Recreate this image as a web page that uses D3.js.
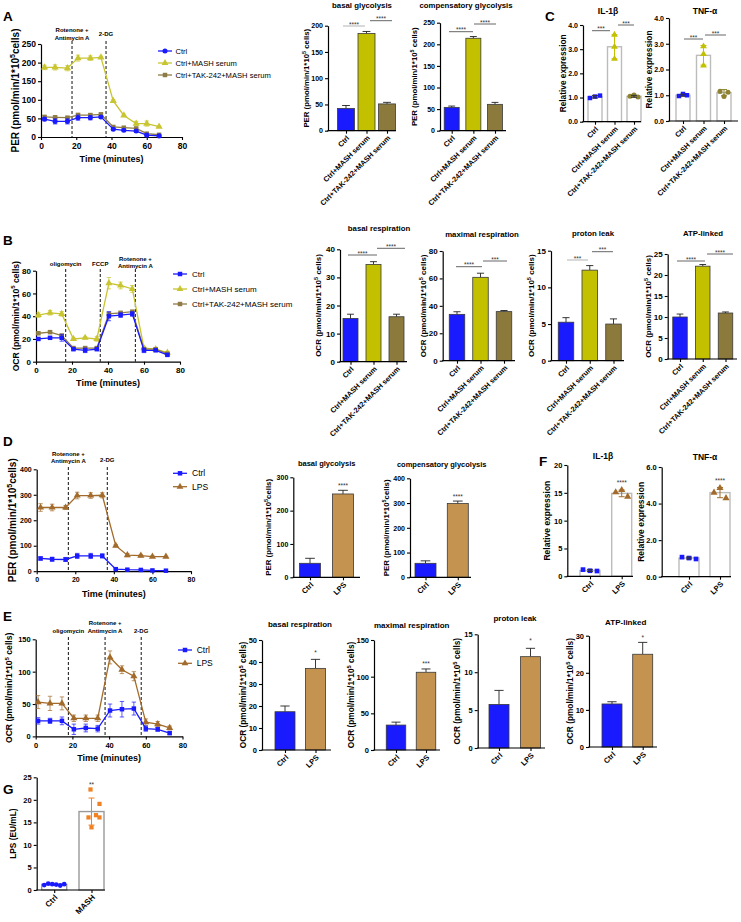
<!DOCTYPE html>
<html><head><meta charset="utf-8">
<script src="https://cdn.jsdelivr.net/npm/d3@7"></script>
<style>body{margin:0;background:#fff}</style>
</head><body>
<svg id="chart" width="741" height="922" style="background:#fff"></svg>
<script>
// ---------------- DATA ----------------
const groups3 = ["Ctrl", "Ctrl+MASH serum", "Ctrl+TAK-242+MASH serum"];
const groups2 = ["Ctrl", "LPS"];
const groupsG = ["Ctrl", "MASH"];
const timeTicks = [0, 20, 40, 60, 80];

// Panel A – PER time course
const timeGly = [2, 8, 15, 21, 28, 34, 41, 47, 54, 60, 67];
const perCtrlA = [48, 42, 42, 52, 52, 54, 21, 18, 16, 5, 3];
const perCtrlAErr = [4, 7, 7, 7, 6, 3, 3, 3, 3, 3, 2];
const perMashA = [187, 187, 185, 212, 212, 214, 97, 58, 36, 36, 28];
const perMashAErr = [6, 7, 7, 8, 6, 3, 3, 3, 6, 7, 2];
const perTakA = [54, 53, 52, 59, 59, 61, 27, 25, 23, 9, 6];
const perTakAErr = [4, 3, 3, 5, 4, 3, 2, 2, 2, 2, 1];
const ticksPerA = [0, 50, 100, 150, 200, 250];
// Panel A – bars
const basalGlyA = [42.5, 185, 51];
const basalGlyAErr = [5.5, 4, 3];
const ticksBasalGlyA = [0, 50, 100, 150, 200];
const compGlyA = [54, 214, 61];
const compGlyAErr = [3, 4, 4.5];
const ticksCompGlyA = [0, 50, 100, 150, 200, 250];
// Panel C
const il1bC = [1.03, 3.1, 1.05];
const il1bCErr = [0.05, 0.5, 0.04];
const il1bCPts = [[0.98, 1.08, 1.04], [3.6, 3.1, 2.6], [1.05, 1.1, 1.02]];
const tnfC = [1.0, 2.55, 1.1];
const tnfCErr = [0.04, 0.38, 0.12];
const tnfCPts = [[0.97, 1.05, 1.0], [2.9, 2.6, 2.15], [1.15, 0.95, 1.12]];
const ticksRelC = [0, 1, 2, 3, 4];

// Panel B – OCR time course
const timeOcr = [1.3, 7.8, 14.3, 20.8, 27.3, 33.8, 40.5, 47, 53.5, 60, 66.5, 73];
const ocrCtrlB = [20, 21, 21, 11, 10, 11, 40, 41, 42, 10, 10, 6];
const ocrCtrlBErr = [1, 1, 3, 1, 2, 1, 4, 2, 2, 2, 1, 1];
const ocrMashB = [41, 43, 42, 20, 21, 20, 69, 67, 64, 12, 11, 8];
const ocrMashBErr = [2, 2, 2, 1, 1, 2, 5, 3, 3, 1, 1, 1];
const ocrTakB = [25, 26, 23, 12, 12, 12, 42, 43, 44, 11, 11, 7];
const ocrTakBErr = [1, 1, 1, 1, 1, 1, 1, 1, 1, 1, 1, 1];
const ticksOcrB = [0, 20, 40, 60, 80];
// Panel B – bars
const basalRespB = [15.4, 34.6, 16.0];
const basalRespBErr = [1.5, 1.0, 0.9];
const ticksBasalRespB = [0, 10, 20, 30, 40];
const maxRespB = [33.8, 60.8, 35.8];
const maxRespBErr = [1.9, 3.0, 0.8];
const ticksMaxRespB = [0, 20, 40, 60, 80];
const protonLeakB = [5.25, 12.35, 5.0];
const protonLeakBErr = [0.62, 0.62, 0.7];
const ticksProtonB = [0, 5, 10, 15];
const atpB = [10.0, 22.1, 10.95];
const atpBErr = [0.7, 0.4, 0.25];
const ticksAtpB = [0, 5, 10, 15, 20, 25];

// Panel D – PER time course (LPS)
const perCtrlD = [50, 47, 46, 60, 60, 60, 8, 6, 5, 3, 2];
const perCtrlDErr = [6, 8, 8, 10, 10, 8, 2, 1, 1, 1, 1];
const perLpsD = [250, 250, 250, 297, 297, 298, 100, 63, 61, 57, 57];
const perLpsDErr = [15, 13, 8, 13, 11, 10, 4, 6, 5, 3, 2];
const ticksPerD = [0, 100, 200, 300, 400];
const basalGlyD = [42, 250];
const basalGlyDErr = [15, 11];
const ticksBasalGlyD = [0, 100, 200, 300];
const compGlyD = [56.5, 298];
const compGlyDErr = [10, 10];
const ticksCompGlyD = [0, 100, 200, 300, 400];

// Panel F
const il1bF = [1.03, 14.9];
const il1bFErr = [0.15, 0.6];
const il1bFPts = [[1.2, 1.0, 0.95], [15.1, 15.5, 14.3]];
const ticksIl1bF = [0, 5, 10, 15, 20];
const tnfF = [1.02, 4.6];
const tnfFErr = [0.05, 0.28];
const tnfFPts = [[1.07, 1.02, 0.97], [4.6, 4.85, 4.3]];
const ticksTnfF = [0, 2, 4, 6];

// Panel E – OCR time course (LPS)
const ocrCtrlE = [24, 24, 24, 11, 13, 12, 40, 42, 43, 12, 11, 5];
const ocrCtrlEErr = [5, 4, 6, 8, 6, 5, 10, 12, 10, 4, 3, 2];
const ocrLpsE = [53, 51, 51, 28, 28, 28, 122, 103, 93, 22, 19, 13];
const ocrLpsEErr = [10, 11, 10, 5, 5, 5, 10, 6, 7, 5, 4, 3];
const ticksOcrE = [0, 50, 100, 150];
const basalRespE = [17.4, 37.1];
const basalRespEErr = [2.6, 4.1];
const ticksBasalRespE = [0, 10, 20, 30, 40, 50];
const maxRespE = [34, 106];
const maxRespEErr = [4, 4.5];
const ticksMaxRespE = [0, 50, 100, 150];
const protonLeakE = [5.75, 12.05];
const protonLeakEErr = [1.85, 1.1];
const ticksProtonE = [0, 5, 10, 15];
const atpE = [11.6, 25.0];
const atpEErr = [0.6, 3.2];
const ticksAtpE = [0, 10, 20, 30];

// Panel G
const lpsG = [1.25, 17.4];
const lpsGErr = [0.15, 3.0];
const lpsGPts = [[1.1, 1.4, 1.3, 1.2, 1.0, 1.3], [22.3, 19.1, 16.6, 16.1, 16.1, 13.9]];
const ticksLpsG = [0, 5, 10, 15, 20, 25];

// ---------------- DRAWING ----------------
const FONT = '"Liberation Sans", Arial, Helvetica, sans-serif';
const C = {
  ctrl: '#1a1aff', mash: '#c3c000', tak: '#8c7a3c',
  mashLine: '#c8c530', takLine: '#8e7c44',
  lpsLine: '#a36b2b', lpsBar: '#c4934f', orange: '#f08223'
};
const svg = d3.select('#chart').attr('font-family', FONT);

function styleAxis(a, fs) {
  a.attr('font-family', FONT);
  a.select('.domain').attr('stroke', '#000').attr('stroke-width', 1.2);
  a.selectAll('.tick line').attr('stroke', '#000').attr('stroke-width', 1.1);
  a.selectAll('.tick text').attr('font-family', FONT).attr('font-size', fs)
    .attr('font-weight', 'bold').attr('fill', '#000');
}
function maxTickWidth(a) {
  let m = 0;
  a.selectAll('.tick text').each(function () { m = Math.max(m, this.getComputedTextLength()); });
  return m;
}

function yLabel(g, cx, cy, parts, fs) {
  const t = g.append('text')
    .attr('transform', `translate(${cx + fs * 0.36},${cy}) rotate(-90)`)
    .attr('text-anchor', 'middle').attr('font-size', fs).attr('font-weight', 'bold')
    .attr('font-family', FONT).attr('fill', '#000');
  t.append('tspan').text(parts[0]);
  if (parts.length > 1) {
    t.append('tspan').attr('dy', -fs * 0.4).attr('font-size', fs * 0.7).text(parts[1]);
    t.append('tspan').attr('dy', fs * 0.4).text(parts[2]);
  }
}

function letter(txt, x, y) {
  svg.append('text').attr('x', x).attr('y', y).attr('font-size', 13.5)
    .attr('font-weight', 'bold').attr('font-family', FONT).text(txt);
}

const SYM = { circle: d3.symbolCircle, square: d3.symbolSquare, tri: d3.symbolTriangle };

function lineChart(o) {
  const g = svg.append('g');
  const x = d3.scaleLinear().domain([0, 80]).range([o.x0, o.x1]);
  const y = d3.scaleLinear().domain([0, o.yMax]).range([o.y0, o.yTop]);
  o.vlines.forEach(v => {
    g.append('line').attr('x1', x(v.t)).attr('x2', x(v.t)).attr('y1', o.dashTop).attr('y2', o.y0)
      .attr('stroke', '#111').attr('stroke-width', 1).attr('stroke-dasharray', '3,2');
    v.lab.forEach((s, k) => g.append('text').attr('x', x(v.t)).attr('y', v.ly[k])
      .attr('text-anchor', 'middle').attr('font-size', 6).attr('font-weight', 'bold').text(s));
  });
  const ya = g.append('g').attr('transform', `translate(${o.x0},0)`)
    .call(d3.axisLeft(y).tickValues(o.yTicks).tickSize(3).tickPadding(2).tickSizeOuter(0));
  styleAxis(ya, o.tfs);
  const xa = g.append('g').attr('transform', `translate(0,${o.y0})`)
    .call(d3.axisBottom(x).tickValues(timeTicks).tickSize(3).tickPadding(3).tickSizeOuter(0));
  styleAxis(xa, o.tfs);
  g.append('text').attr('x', (o.x0 + o.x1) / 2).attr('y', o.xlabY).attr('text-anchor', 'middle')
    .attr('font-size', 9).attr('font-weight', 'bold').text('Time (minutes)');
  const lx = Math.min(o.ylx, o.x0 - 5 - maxTickWidth(ya) - 1.2 - o.ylfs * 0.5);
  yLabel(g, lx, (o.y0 + o.yTop) / 2, o.ylab, o.ylfs);
  o.series.forEach(s => {
    const pts = o.times.map((t, i) => ({ t, v: s.values[i], e: s.errors[i] }));
    g.append('g').selectAll('line').data(pts).join('line')
      .attr('x1', d => x(d.t)).attr('x2', d => x(d.t))
      .attr('y1', d => y(d.v - d.e)).attr('y2', d => y(d.v + d.e))
      .attr('stroke', s.color).attr('stroke-opacity', 0.7).attr('stroke-width', 1);
    [-1, 1].forEach(sg => g.append('g').selectAll('line').data(pts).join('line')
      .attr('x1', d => x(d.t) - 2.2).attr('x2', d => x(d.t) + 2.2)
      .attr('y1', d => y(d.v + sg * d.e)).attr('y2', d => y(d.v + sg * d.e))
      .attr('stroke', s.color).attr('stroke-opacity', 0.7).attr('stroke-width', 1));
    g.append('path').datum(pts)
      .attr('d', d3.line().x(d => x(d.t)).y(d => y(d.v)))
      .attr('fill', 'none').attr('stroke', s.color).attr('stroke-width', 1.3);
    g.append('g').selectAll('path').data(pts).join('path')
      .attr('transform', d => `translate(${x(d.t)},${y(d.v)})`)
      .attr('d', d3.symbol(SYM[s.sym], s.sym === 'tri' ? 22 : 20)())
      .attr('fill', s.color);
  });
  o.legend.items.forEach((s, k) => {
    const ly = o.legend.ys[k];
    g.append('line').attr('x1', o.legend.mx - 7).attr('x2', o.legend.mx + 7)
      .attr('y1', ly).attr('y2', ly).attr('stroke', s.color).attr('stroke-width', 1.3);
    g.append('path').attr('transform', `translate(${o.legend.mx},${ly})`)
      .attr('d', d3.symbol(SYM[s.sym], 20)()).attr('fill', s.color);
    g.append('text').attr('x', o.legend.tx).attr('y', ly + o.legend.fs * 0.35)
      .attr('font-size', o.legend.fs).text(s.name);
  });
}

function barChart(o) {
  const g = svg.append('g');
  const y = d3.scaleLinear().domain([0, o.yMax]).range([o.y0, o.yTop]);
  const x = d3.scalePoint().domain(o.cats).range([o.c0, o.c1]);
  const data = o.cats.map((c, i) => ({ c, i, v: o.values[i], e: o.errors[i] }));
  const bw = o.bw;
  if (!o.open) {
    g.append('g').selectAll('line').data(data).join('line')
      .attr('x1', d => x(d.c)).attr('x2', d => x(d.c))
      .attr('y1', d => y(d.v)).attr('y2', d => y(d.v + d.e))
      .attr('stroke', '#222').attr('stroke-width', 0.9);
    g.append('g').selectAll('line').data(data).join('line')
      .attr('x1', d => x(d.c) - bw * 0.23).attr('x2', d => x(d.c) + bw * 0.23)
      .attr('y1', d => y(d.v + d.e)).attr('y2', d => y(d.v + d.e))
      .attr('stroke', '#222').attr('stroke-width', 0.9);
    g.append('g').selectAll('rect').data(data).join('rect')
      .attr('x', d => x(d.c) - bw / 2).attr('y', d => y(d.v))
      .attr('width', bw).attr('height', d => o.y0 - y(d.v))
      .attr('fill', d => o.colors[d.i]).attr('stroke', '#3a3a3a').attr('stroke-width', 0.8);
  } else {
    g.append('g').selectAll('rect').data(data).join('rect')
      .attr('x', d => x(d.c) - bw / 2).attr('y', d => y(d.v))
      .attr('width', bw).attr('height', d => o.y0 - y(d.v))
      .attr('fill', '#fff').attr('stroke', o.stroke).attr('stroke-width', 1.4);
    data.forEach(d => {
      o.points[d.i].forEach((p, k) => {
        g.append('path').attr('transform', `translate(${x(d.c) + o.jitter[d.i][k]},${y(p)})`)
          .attr('d', d3.symbol(SYM[o.syms[d.i]], o.symSize)()).attr('fill', o.colors[d.i]);
      });
    });
    g.append('g').selectAll('line').data(data).join('line')
      .attr('x1', d => x(d.c)).attr('x2', d => x(d.c))
      .attr('y1', d => y(d.v - d.e)).attr('y2', d => y(d.v + d.e))
      .attr('stroke', d => o.ecolors[d.i]).attr('stroke-width', 1);
    [-1, 1].forEach(sg => g.append('g').selectAll('line').data(data).join('line')
      .attr('x1', d => x(d.c) - 3).attr('x2', d => x(d.c) + 3)
      .attr('y1', d => y(d.v + sg * d.e)).attr('y2', d => y(d.v + sg * d.e))
      .attr('stroke', d => o.ecolors[d.i]).attr('stroke-width', 1));
  }
  const ya = g.append('g').attr('transform', `translate(${o.axisX},0)`)
    .call(d3.axisLeft(y).tickValues(o.ticks).tickSize(3).tickPadding(2).tickSizeOuter(0));
  styleAxis(ya, o.tfs);
  const xa = g.append('g').attr('transform', `translate(0,${o.y0})`)
    .call(d3.axisBottom(x).tickSize(3).tickFormat('').tickSizeOuter(0));
  xa.select('.domain').remove();
  xa.selectAll('.tick line').attr('stroke', '#000').attr('stroke-width', 1.1);
  g.append('line').attr('x1', o.axisX - 0.6).attr('x2', o.axisEnd).attr('y1', o.y0).attr('y2', o.y0)
    .attr('stroke', '#000').attr('stroke-width', 1.2);
  g.append('g').selectAll('text').data(o.cats).join('text')
    .attr('transform', d => `translate(${x(d) + 2},${o.y0 + 6}) rotate(-45)`)
    .attr('text-anchor', 'end').attr('dy', '0.35em')
    .attr('font-size', o.lfs).attr('font-weight', 'bold').text(d => d);
  if (o.title) g.append('text').attr('x', o.tx).attr('y', o.ty).attr('text-anchor', 'middle')
    .attr('font-size', o.titleFs).attr('font-weight', 'bold').text(o.title);
  const lx = Math.min(o.ylx, o.axisX - 5 - maxTickWidth(ya) - 1.5 - o.ylfs * 0.5);
  yLabel(g, lx, (o.y0 + o.yTop) / 2, o.ylab, o.ylfs);
  const sfs = 6.5;
  (o.sig || []).forEach(s => {
    if (s.x1 !== undefined) {
      g.append('line').attr('x1', s.x1).attr('x2', s.x2).attr('y1', s.y).attr('y2', s.y)
        .attr('stroke', s.c || '#555').attr('stroke-width', 0.9);
      g.append('text').attr('x', (s.x1 + s.x2) / 2).attr('y', s.y + 0.6).attr('text-anchor', 'middle')
        .attr('font-size', sfs).attr('fill', '#333').text(s.t);
    } else {
      g.append('text').attr('x', x(o.cats[s.cat])).attr('y', s.y + sfs * 0.57).attr('text-anchor', 'middle')
        .attr('font-size', sfs).attr('fill', '#333').text(s.t);
    }
  });
}

// ---------- Panel A ----------
letter('A', 3, 21);
lineChart({
  x0: 41, x1: 182, y0: 137, yTop: 44, yMax: 250, yTicks: ticksPerA, tfs: 8.5,
  times: timeGly, dashTop: 41, xlabY: 161.5,
  vlines: [{ t: 17.6, lab: ['Rotenone +', 'Antimycin A'], ly: [31.5, 39.5] },
           { t: 36.9, lab: ['2-DG'], ly: [35.5] }],
  ylab: ['PER (pmol/min/1*10', '5', 'cells)'], ylx: 19, ylfs: 10,
  series: [
    { values: perMashA, errors: perMashAErr, color: C.mashLine, sym: 'tri' },
    { values: perTakA, errors: perTakAErr, color: C.takLine, sym: 'square' },
    { values: perCtrlA, errors: perCtrlAErr, color: C.ctrl, sym: 'circle' }],
  legend: { mx: 165, tx: 175.5, ys: [51, 63, 75], fs: 7.6, items: [
    { name: groups3[0], color: C.ctrl, sym: 'circle' },
    { name: groups3[1], color: C.mashLine, sym: 'tri' },
    { name: groups3[2], color: C.takLine, sym: 'square' }] }
});
barChart({
  cats: groups3, values: basalGlyA, errors: basalGlyAErr, colors: [C.ctrl, C.mash, C.tak],
  axisX: 328, axisEnd: 396, y0: 130.7, yTop: 25.7, yMax: 200, ticks: ticksBasalGlyA, tfs: 7,
  c0: 346, c1: 387, bw: 17, lfs: 7.3,
  title: 'basal glycolysis', tx: 362, ty: 7.5, titleFs: 7.8,
  ylab: ['PER (pmol/min/1*10', '5', ' cells)'], ylx: 314, ylfs: 7.8,
  sig: [{ x1: 343, x2: 365, y: 26, t: '****', c: '#aaa' }, { x1: 370, x2: 392, y: 20.7, t: '****' }]
});
barChart({
  cats: groups3, values: compGlyA, errors: compGlyAErr, colors: [C.ctrl, C.mash, C.tak],
  axisX: 440, axisEnd: 506, y0: 130.7, yTop: 22.7, yMax: 250, ticks: ticksCompGlyA, tfs: 7,
  c0: 451.7, c1: 495, bw: 15, lfs: 7.3,
  title: 'compensatory glycolysis', tx: 466, ty: 7.5, titleFs: 7.8,
  ylab: ['PER (pmol/min/1*10', '5', ' cells)'], ylx: 414, ylfs: 7.8,
  sig: [{ x1: 449, x2: 473, y: 31.7, t: '****' }, { x1: 474, x2: 496, y: 24, t: '****' }]
});

// ---------- Panel C ----------
letter('C', 545, 21);
barChart({
  cats: groups3, values: il1bC, errors: il1bCErr, open: true, stroke: '#bcbcbc',
  colors: [C.ctrl, C.mash, '#8d8230'], ecolors: ['#333', C.mash, '#333'],
  points: il1bCPts, jitter: [[-5, 5, 0], [0, 0, 0], [-4, 0, 4]], syms: ['square', 'tri', 'circle'], symSize: 20,
  axisX: 583, axisEnd: 641, y0: 121.7, yTop: 25, yMax: 4, ticks: ticksRelC, tfs: 7,
  c0: 595, c1: 634, bw: 14, lfs: 7.3,
  title: 'IL-1β', tx: 608, ty: 13.5, titleFs: 8.5,
  ylab: ['Relative expression'], ylx: 566, ylfs: 8.3,
  sig: [{ x1: 592, x2: 610, y: 30.7, t: '***' }, { x1: 618, x2: 634, y: 25, t: '***' }]
});
barChart({
  cats: groups3, values: tnfC, errors: tnfCErr, open: true, stroke: '#bcbcbc',
  colors: [C.ctrl, C.mash, '#8d8230'], ecolors: ['#333', C.mash, '#8d8230'],
  points: tnfCPts, jitter: [[-4, 0, 4], [0, 0, 0], [-4, 0, 4]], syms: ['square', 'tri', 'circle'], symSize: 20,
  axisX: 669, axisEnd: 738, y0: 121, yTop: 18, yMax: 4, ticks: ticksRelC, tfs: 7,
  c0: 683, c1: 724, bw: 14, lfs: 7.3,
  title: 'TNF-α', tx: 705, ty: 13.5, titleFs: 8.5,
  ylab: ['Relative expression'], ylx: 652, ylfs: 8.3,
  sig: [{ x1: 684, x2: 703, y: 39, t: '***' }, { x1: 705, x2: 726, y: 35, t: '***' }]
});

// ---------- Panel B ----------
letter('B', 3, 245);
lineChart({
  x0: 36, x1: 180, y0: 361.7, yTop: 270.7, yMax: 80, yTicks: ticksOcrB, tfs: 8,
  times: timeOcr, dashTop: 269, xlabY: 386,
  vlines: [{ t: 16.5, lab: ['oligomycin'], ly: [265.5] },
           { t: 35.7, lab: ['FCCP'], ly: [265.5] },
           { t: 55.2, lab: ['Rotenone +', 'Antimycin A'], ly: [260.5, 267.5] }],
  ylab: ['OCR (pmol/min/1*10', '5', ' cells)'], ylx: 15.5, ylfs: 8.6,
  series: [
    { values: ocrMashB, errors: ocrMashBErr, color: C.mashLine, sym: 'tri' },
    { values: ocrTakB, errors: ocrTakBErr, color: C.takLine, sym: 'square' },
    { values: ocrCtrlB, errors: ocrCtrlBErr, color: C.ctrl, sym: 'square' }],
  legend: { mx: 180, tx: 192, ys: [274, 289, 304], fs: 8, items: [
    { name: groups3[0], color: C.ctrl, sym: 'square' },
    { name: groups3[1], color: C.mashLine, sym: 'tri' },
    { name: groups3[2], color: C.takLine, sym: 'square' }] }
});
const ocrLab = ['OCR (pmol/min/1*10', '5', ' cells)'];
barChart({
  cats: groups3, values: basalRespB, errors: basalRespBErr, colors: [C.ctrl, C.mash, C.tak],
  axisX: 340, axisEnd: 407, y0: 361.7, yTop: 249.3, yMax: 40, ticks: ticksBasalRespB, tfs: 8,
  c0: 350.5, c1: 396.5, bw: 15, lfs: 7.3,
  title: 'basal respiration', tx: 379, ty: 231, titleFs: 7.8,
  ylab: ocrLab, ylx: 318, ylfs: 8,
  sig: [{ x1: 348, x2: 377, y: 255, t: '****' }, { x1: 377, x2: 405, y: 248.3, t: '****' }]
});
barChart({
  cats: groups3, values: maxRespB, errors: maxRespBErr, colors: [C.ctrl, C.mash, C.tak],
  axisX: 442.7, axisEnd: 515, y0: 360.7, yTop: 251, yMax: 80, ticks: ticksMaxRespB, tfs: 8,
  c0: 457, c1: 504, bw: 15.5, lfs: 7.3,
  title: 'maximal respiration', tx: 482, ty: 237, titleFs: 7.8,
  ylab: ocrLab, ylx: 423, ylfs: 8,
  sig: [{ x1: 456, x2: 482, y: 266.7, t: '****' }, { x1: 483, x2: 507, y: 261, t: '***' }]
});
barChart({
  cats: groups3, values: protonLeakB, errors: protonLeakBErr, colors: [C.ctrl, C.mash, C.tak],
  axisX: 551, axisEnd: 624, y0: 360.7, yTop: 250.7, yMax: 15, ticks: ticksProtonB, tfs: 8,
  c0: 566, c1: 613.5, bw: 15.5, lfs: 7.3,
  title: 'proton leak', tx: 593, ty: 235.5, titleFs: 7.8,
  ylab: ocrLab, ylx: 535, ylfs: 8,
  sig: [{ x1: 567, x2: 588, y: 260, t: '***', c: '#aaa' }, { x1: 592, x2: 613, y: 251.7, t: '***' }]
});
barChart({
  cats: groups3, values: atpB, errors: atpBErr, colors: [C.ctrl, C.mash, C.tak],
  axisX: 667.7, axisEnd: 737, y0: 359, yTop: 254, yMax: 25, ticks: ticksAtpB, tfs: 8,
  c0: 680, c1: 725.5, bw: 14.5, lfs: 7.3,
  title: 'ATP-linked', tx: 703, ty: 236, titleFs: 7.8,
  ylab: ocrLab, ylx: 648.5, ylfs: 8,
  sig: [{ x1: 677, x2: 705, y: 261, t: '****' }, { x1: 707, x2: 733, y: 254, t: '****' }]
});

// ---------- Panel D ----------
letter('D', 3, 446);
lineChart({
  x0: 36.7, x1: 191, y0: 571.2, yTop: 469.3, yMax: 400, yTicks: ticksPerD, tfs: 7,
  times: timeGly, dashTop: 467, xlabY: 596.5,
  vlines: [{ t: 16.4, lab: ['Rotenone +', 'Antimycin A'], ly: [455.5, 462.5] },
           { t: 36.6, lab: ['2-DG'], ly: [461.5] }],
  ylab: ['PER (pmol/min/1*10', '5', 'cells)'], ylx: 12, ylfs: 10,
  series: [
    { values: perLpsD, errors: perLpsDErr, color: C.lpsLine, sym: 'tri' },
    { values: perCtrlD, errors: perCtrlDErr, color: C.ctrl, sym: 'square' }],
  legend: { mx: 180, tx: 192, ys: [473.3, 486.7], fs: 8.5, items: [
    { name: groups2[0], color: C.ctrl, sym: 'square' },
    { name: groups2[1], color: C.lpsLine, sym: 'tri' }] }
});
barChart({
  cats: groups2, values: basalGlyD, errors: basalGlyDErr, colors: [C.ctrl, C.lpsBar],
  axisX: 293.3, axisEnd: 360, y0: 577.3, yTop: 477.3, yMax: 300, ticks: ticksBasalGlyD, tfs: 7,
  c0: 310, c1: 343, bw: 21, lfs: 7.5,
  title: 'basal glycolysis', tx: 326.7, ty: 465.5, titleFs: 7.5,
  ylab: ['PER (pmol/min/1*10', '5', 'cells)'], ylx: 268, ylfs: 7.8,
  sig: [{ cat: 1, y: 484, t: '****' }]
});
barChart({
  cats: groups2, values: compGlyD, errors: compGlyDErr, colors: [C.ctrl, C.lpsBar],
  axisX: 410, axisEnd: 471, y0: 577.3, yTop: 478.3, yMax: 400, ticks: ticksCompGlyD, tfs: 7,
  c0: 425.5, c1: 457.8, bw: 21, lfs: 7.5,
  title: 'compensatory glycolysis', tx: 441.7, ty: 467, titleFs: 7.5,
  ylab: ['PER (pmol/min/1*10', '5', 'cells)'], ylx: 386, ylfs: 7.8,
  sig: [{ cat: 1, y: 495, t: '****' }]
});

// ---------- Panel F ----------
letter('F', 539, 466);
barChart({
  cats: groups2, values: il1bF, errors: il1bFErr, open: true, stroke: '#bcbcbc',
  colors: [C.ctrl, C.lpsLine], ecolors: ['#333', C.lpsLine],
  points: il1bFPts, jitter: [[-7, 0, 7], [-6, 0, 6]], syms: ['square', 'tri'], symSize: 22,
  axisX: 567.3, axisEnd: 633, y0: 576.3, yTop: 465, yMax: 20, ticks: ticksIl1bF, tfs: 7.5,
  c0: 590, c1: 621.7, bw: 20, lfs: 7.5,
  title: 'IL-1β', tx: 603, ty: 459, titleFs: 8.5,
  ylab: ['Relative expression'], ylx: 547, ylfs: 8.5,
  sig: [{ cat: 1, y: 481.7, t: '****' }]
});
barChart({
  cats: groups2, values: tnfF, errors: tnfFErr, open: true, stroke: '#bcbcbc',
  colors: [C.ctrl, C.lpsLine], ecolors: ['#333', C.lpsLine],
  points: tnfFPts, jitter: [[-7, 0, 7], [-6, 0, 6]], syms: ['square', 'tri'], symSize: 22,
  axisX: 661.7, axisEnd: 731, y0: 576.7, yTop: 467, yMax: 6, ticks: ticksTnfF, tfs: 7.5,
  c0: 689, c1: 720, bw: 20, lfs: 7.5,
  title: 'TNF-α', tx: 705, ty: 460, titleFs: 8.5,
  ylab: ['Relative expression'], ylx: 643, ylfs: 8.5,
  sig: [{ cat: 1, y: 479.5, t: '****' }]
});

// ---------- Panel E ----------
letter('E', 3, 621);
lineChart({
  x0: 35.7, x1: 182.5, y0: 736.4, yTop: 639.3, yMax: 150, yTicks: ticksOcrE, tfs: 7.5,
  times: timeOcr, dashTop: 637, xlabY: 761,
  vlines: [{ t: 17.8, lab: ['oligomycin'], ly: [633] },
           { t: 37.8, lab: ['Rotenone +', 'Antimycin A'], ly: [625, 633] },
           { t: 57.5, lab: ['2-DG'], ly: [633] }],
  ylab: ['OCR (pmol/min/1*10', '5', ' cells)'], ylx: 9, ylfs: 8.6,
  series: [
    { values: ocrLpsE, errors: ocrLpsEErr, color: C.lpsLine, sym: 'tri' },
    { values: ocrCtrlE, errors: ocrCtrlEErr, color: C.ctrl, sym: 'square' }],
  legend: { mx: 185, tx: 196.7, ys: [650, 663.3], fs: 8.5, items: [
    { name: groups2[0], color: C.ctrl, sym: 'square' },
    { name: groups2[1], color: C.lpsLine, sym: 'tri' }] }
});
barChart({
  cats: groups2, values: basalRespE, errors: basalRespEErr, colors: [C.ctrl, C.lpsBar],
  axisX: 262, axisEnd: 331, y0: 750, yTop: 640, yMax: 50, ticks: ticksBasalRespE, tfs: 7.5,
  c0: 285, c1: 315.5, bw: 20, lfs: 7.5,
  title: 'basal respiration', tx: 300, ty: 627, titleFs: 8,
  ylab: ocrLab, ylx: 247, ylfs: 8.3,
  sig: [{ cat: 1, y: 651.7, t: '*' }]
});
barChart({
  cats: groups2, values: maxRespE, errors: maxRespEErr, colors: [C.ctrl, C.lpsBar],
  axisX: 374, axisEnd: 440, y0: 750, yTop: 640, yMax: 150, ticks: ticksMaxRespE, tfs: 7.5,
  c0: 396, c1: 426, bw: 19.5, lfs: 7.5,
  title: 'maximal respiration', tx: 411.7, ty: 627.5, titleFs: 8,
  ylab: ocrLab, ylx: 351, ylfs: 8.3,
  sig: [{ cat: 1, y: 662.7, t: '***' }]
});
barChart({
  cats: groups2, values: protonLeakE, errors: protonLeakEErr, colors: [C.ctrl, C.lpsBar],
  axisX: 477.7, axisEnd: 545, y0: 748, yTop: 634.3, yMax: 15, ticks: ticksProtonE, tfs: 7.5,
  c0: 499, c1: 530.5, bw: 20, lfs: 7.5,
  title: 'proton leak', tx: 515, ty: 620.5, titleFs: 8,
  ylab: ocrLab, ylx: 457, ylfs: 8.3,
  sig: [{ cat: 1, y: 639.3, t: '*' }]
});
barChart({
  cats: groups2, values: atpE, errors: atpEErr, colors: [C.ctrl, C.lpsBar],
  axisX: 589, axisEnd: 657, y0: 747, yTop: 635.7, yMax: 30, ticks: ticksAtpE, tfs: 7.5,
  c0: 612, c1: 642.7, bw: 20, lfs: 7.5,
  title: 'ATP-linked', tx: 625.7, ty: 624.5, titleFs: 8,
  ylab: ocrLab, ylx: 570, ylfs: 8.3,
  sig: [{ cat: 1, y: 636.5, t: '*' }]
});

// ---------- Panel G ----------
letter('G', 3, 794);
barChart({
  cats: groupsG, values: lpsG, errors: lpsGErr, open: true, stroke: '#999',
  colors: [C.ctrl, C.orange], ecolors: [C.ctrl, C.orange],
  points: lpsGPts, jitter: [[-10, -6, -2, 2, 6, 10], [-1, 8, 4.5, -3, 8, 0]],
  syms: ['circle', 'square'], symSize: 18,
  axisX: 36.7, axisEnd: 105, y0: 890, yTop: 777.3, yMax: 25, ticks: ticksLpsG, tfs: 7.5,
  c0: 54.2, c1: 91.5, bw: 25, lfs: 8,
  title: null,
  ylab: ['LPS (EU/mL)'], ylx: 13.3, ylfs: 8.3,
  sig: [{ cat: 1, y: 783.5, t: '**' }]
});
</script>
</body></html>
